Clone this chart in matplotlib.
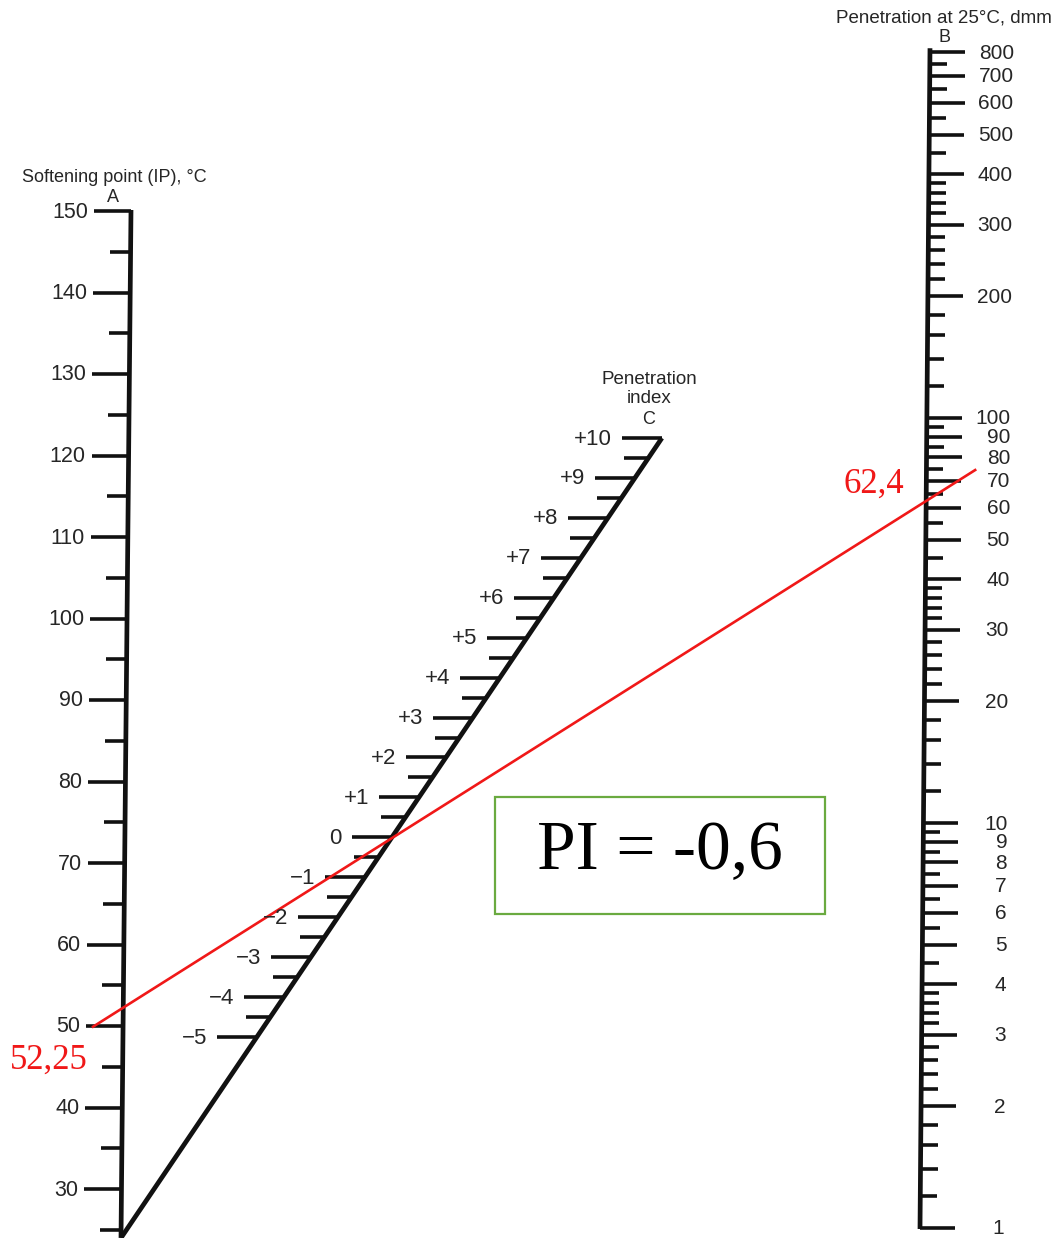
import numpy as np
import matplotlib
matplotlib.use("AGG")
import matplotlib.pyplot as plt
from matplotlib.patches import Rectangle

plt.rcParams['font.family'] = ['Liberation Sans', 'DejaVu Sans']

# scale A: softening point (IP), degC
a_labels = [30, 40, 50, 60, 70, 80, 90, 100, 110, 120, 130, 140, 150]
a_minor = [25, 35, 45, 55, 65, 75, 85, 95, 105, 115, 125, 135, 145]

# scale B: penetration at 25 degC, dmm (log)
b_labels = [1, 2, 3, 4, 5, 6, 7, 8, 9, 10, 20, 30, 40, 50, 60, 70, 80, 90,
            100, 200, 300, 400, 500, 600, 700, 800]
b_minor = [1.2, 1.4, 1.6, 1.8, 2.2, 2.4, 2.6, 2.8, 3.2, 3.4, 3.6, 3.8,
           4.5, 5.5, 6.5, 7.5, 8.5, 9.5,
           12, 14, 16, 18, 22, 24, 26, 28, 32, 34, 36, 38,
           45, 55, 65, 75, 85, 95,
           120, 140, 160, 180, 220, 240, 260, 280, 320, 340, 360, 380,
           450, 550, 650, 750]

# scale C: penetration index
pi_labels = [-5, -4, -3, -2, -1, 0, 1, 2, 3, 4, 5, 6, 7, 8, 9, 10]
pi_minor = [-4.5, -3.5, -2.5, -1.5, -0.5, 0.5, 1.5, 2.5, 3.5, 4.5,
            5.5, 6.5, 7.5, 8.5, 9.5]

# worked example
softening_point = 52.25
penetration = 62.4
pi_text = "PI = -0,6"
sp_text = "52,25"
pen_text = "62,4"

INK = '#111111'
TXT = '#262626'
RED = '#f01818'


def a_pos(v):
    y = 211 + (150 - v) * 8.15
    x = 131 - 10 * (y - 211) / 1027
    return x, y


def b_pos(v):
    y = 1228 - 405 * np.log10(v)
    x = 930 - 10 * (y - 52) / 1176
    return x, y


def c_pos(v):
    y = 1037 - (v + 5) * 39.93
    x = 257 + (1037 - y) * 0.676
    return x, y


fig = plt.figure(figsize=(10.6, 12.38), dpi=100)
ax = fig.add_axes([0, 0, 1, 1])
ax.set_xlim(0, 1060)
ax.set_ylim(1238, 0)
ax.axis('off')

# --- A scale
xa0, ya0 = a_pos(150)
xa1, ya1 = a_pos(24)
ax.plot([xa0, xa1], [ya0 - 1, ya1], color=INK, lw=3.4, solid_capstyle='butt')
for v in a_labels:
    x, y = a_pos(v)
    ax.plot([x - 37, x], [y, y], color=INK, lw=2.6, solid_capstyle='butt')
    ax.text(x - 43, y + 1, str(v), ha='right', va='center', fontsize=15.5, color=TXT)
for v in a_minor:
    x, y = a_pos(v)
    ax.plot([x - 21, x], [y, y], color=INK, lw=2.6, solid_capstyle='butt')
ax.text(114, 177, "Softening point (IP), \u00b0C", ha='center', va='center',
        fontsize=13, color=TXT)
ax.text(113, 197, "A", ha='center', va='center', fontsize=13, color=TXT)

# --- B scale
xb0, yb0 = b_pos(800)
xb1, yb1 = b_pos(1)
ax.plot([xb0, xb1], [yb0 - 4, yb1 + 1], color=INK, lw=3.4, solid_capstyle='butt')
for v in b_labels:
    x, y = b_pos(v)
    ax.plot([x, x + 35], [y, y], color=INK, lw=2.6, solid_capstyle='butt')
    ax.text(x + 84, y + 1, str(v), ha='right', va='center', fontsize=15, color=TXT)
for v in b_minor:
    x, y = b_pos(v)
    ax.plot([x, x + 17], [y, y], color=INK, lw=2.6, solid_capstyle='butt')
ax.text(944, 18, "Penetration at 25\u00b0C, dmm", ha='center', va='center',
        fontsize=13.5, color=TXT)
ax.text(944, 38, "B", ha='center', va='center', fontsize=13, color=TXT)

# --- C scale (slanted, from bottom of A)
xc0, yc0 = c_pos(10)
ax.plot([xa1, xc0], [ya1, yc0], color=INK, lw=3.4, solid_capstyle='butt')
for v in pi_labels:
    x, y = c_pos(v)
    ax.plot([x - 40, x], [y, y], color=INK, lw=2.6, solid_capstyle='butt')
    if v > 0:
        lab = "+%d" % v
    elif v < 0:
        lab = "\u2212%d" % (-v)
    else:
        lab = "0"
    ax.text(x - 50, y + 1, lab, ha='right', va='center', fontsize=16, color=TXT)
for v in pi_minor:
    x, y = c_pos(v)
    ax.plot([x - 24, x], [y, y], color=INK, lw=2.6, solid_capstyle='butt')
ax.text(649, 389, "Penetration\nindex", ha='center', va='center',
        fontsize=13.5, color=TXT, linespacing=1.1)
ax.text(649, 420, "C", ha='center', va='center', fontsize=13, color=TXT)

# --- isoline through the two readings
pa = np.array(a_pos(softening_point))
pb = np.array(b_pos(penetration))
t = np.array([-0.0376, 1.061])
line = pa[None, :] + t[:, None] * (pb - pa)[None, :]
ax.plot(line[:, 0], line[:, 1], color=RED, lw=1.9)
ax.text(49, 1060, sp_text, ha='center', va='center', fontsize=25,
        color=RED, family='Liberation Serif')
ax.text(874, 484, pen_text, ha='center', va='center', fontsize=25,
        color=RED, family='Liberation Serif')

# --- result box
ax.add_patch(Rectangle((495, 797), 330, 117, fill=False, edgecolor='#6aaa40', lw=1.6))
ax.text(660, 852, pi_text, ha='center', va='center', fontsize=50,
        color='black', family='Liberation Serif')

fig.savefig("out.png", dpi=100)
